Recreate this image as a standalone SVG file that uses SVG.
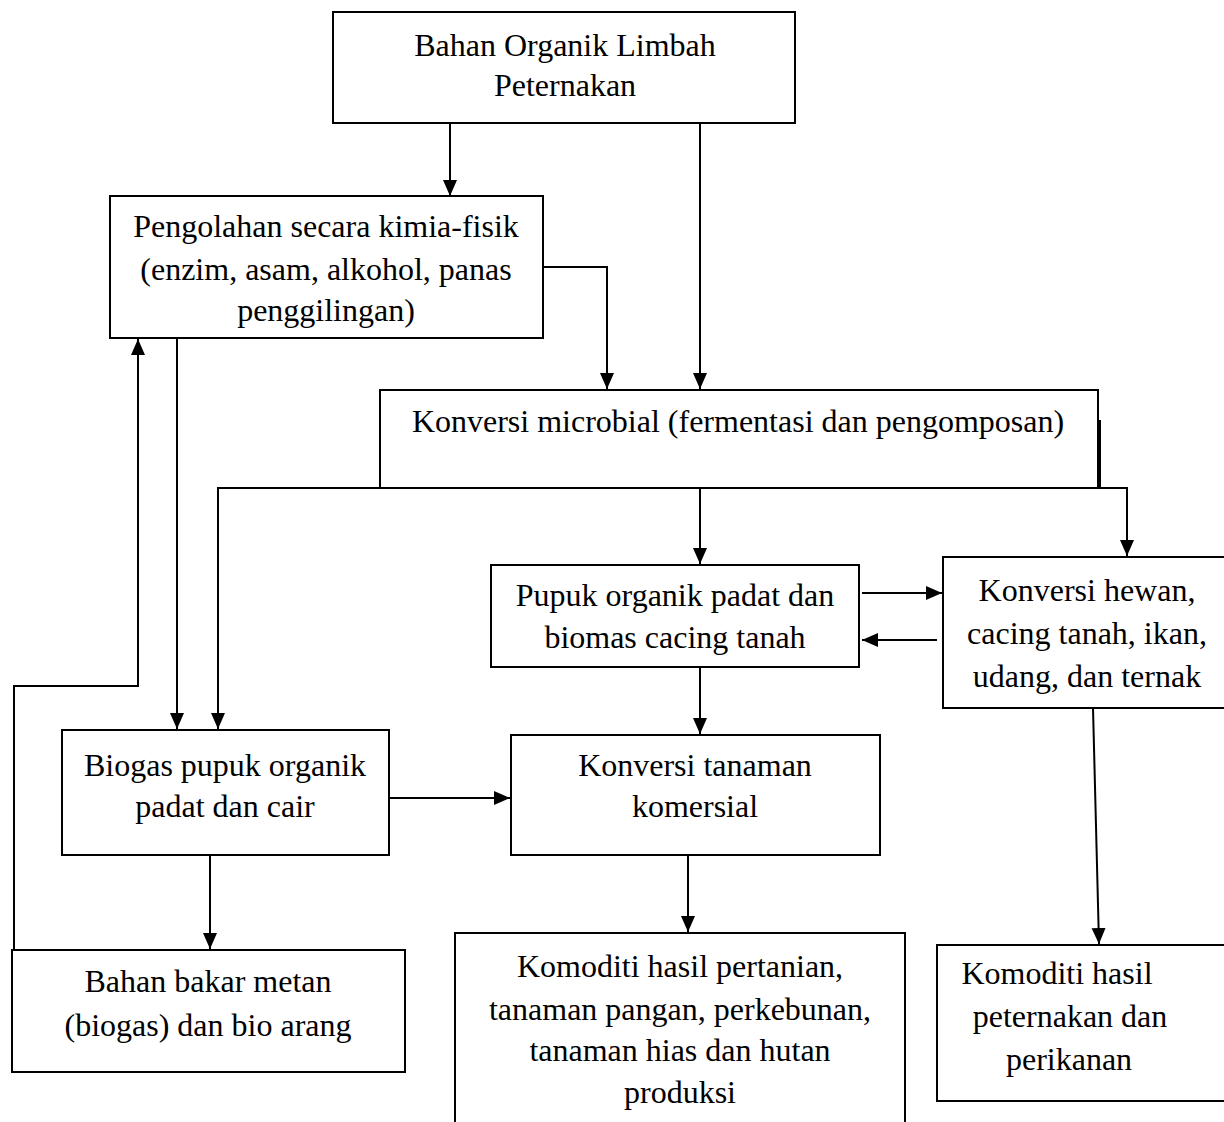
<svg xmlns="http://www.w3.org/2000/svg" width="1224" height="1122" viewBox="0 0 1224 1122">
<defs>
<style>
.box{fill:#fff;stroke:#000;stroke-width:2}
.t{font-family:"Liberation Serif","Times New Roman",serif;font-size:32px;fill:#000;text-anchor:middle}
.c{fill:none;stroke:#000;stroke-width:2}
</style>
<marker id="ah" markerUnits="userSpaceOnUse" markerWidth="16" markerHeight="16" viewBox="0 0 16 16" refX="16" refY="8" orient="auto">
<path d="M0,1 L16,8 L0,15 Z" fill="#000"/>
</marker>
</defs>
<rect width="1224" height="1122" fill="#fff"/>
<g id="n1"><rect class="box" x="333" y="12" width="462" height="111"/>
<text class="t" x="565" y="56">Bahan Organik Limbah</text><text class="t" x="565" y="96">Peternakan</text></g>
<g id="n2"><rect class="box" x="110" y="196" width="433" height="142"/>
<text class="t" x="326" y="237">Pengolahan secara kimia-fisik</text><text class="t" x="326" y="280">(enzim, asam, alkohol, panas</text><text class="t" x="326" y="321">penggilingan)</text></g>
<g id="n3"><rect class="box" x="380" y="390" width="718" height="98"/>
<text class="t" x="738" y="432">Konversi microbial (fermentasi dan pengomposan)</text></g>
<g id="n4"><rect class="box" x="491" y="565" width="368" height="102"/>
<text class="t" x="675" y="606">Pupuk organik padat dan</text><text class="t" x="675" y="648">biomas cacing tanah</text></g>
<g id="n5"><rect class="box" x="943" y="557" width="290" height="151"/>
<text class="t" x="1087" y="601">Konversi hewan,</text><text class="t" x="1087" y="644">cacing tanah, ikan,</text><text class="t" x="1087" y="687">udang, dan ternak</text></g>
<g id="n6"><rect class="box" x="62" y="730" width="327" height="125"/>
<text class="t" x="225" y="776">Biogas pupuk organik</text><text class="t" x="225" y="817">padat dan cair</text></g>
<g id="n7"><rect class="box" x="511" y="735" width="369" height="120"/>
<text class="t" x="695" y="776">Konversi tanaman</text><text class="t" x="695" y="817">komersial</text></g>
<g id="n8"><rect class="box" x="12" y="950" width="393" height="122"/>
<text class="t" x="208" y="992">Bahan bakar metan</text><text class="t" x="208" y="1036">(biogas) dan bio arang</text></g>
<g id="n9"><rect class="box" x="455" y="933" width="450" height="200"/>
<text class="t" x="680" y="977">Komoditi hasil pertanian,</text><text class="t" x="680" y="1020">tanaman pangan, perkebunan,</text><text class="t" x="680" y="1061">tanaman hias dan hutan</text><text class="t" x="680" y="1103">produksi</text></g>
<g id="n10"><rect class="box" x="937" y="945" width="296" height="156"/>
<text class="t" x="1057" y="984">Komoditi hasil</text><text class="t" x="1070" y="1027">peternakan dan</text><text class="t" x="1069" y="1070">perikanan</text></g>
<g id="connectors">
<path class="c" d="M450,123 V196" marker-end="url(#ah)"/>
<path class="c" d="M700,123 V389" marker-end="url(#ah)"/>
<path class="c" d="M543,267 H607 V389" marker-end="url(#ah)"/>
<path class="c" d="M380,445 V488 H218 V729" marker-end="url(#ah)"/>
<path class="c" d="M177,338 V729" marker-end="url(#ah)"/>
<path class="c" d="M700,488 V564" marker-end="url(#ah)"/>
<path class="c" d="M1100,420 V488 H1127 V556" marker-end="url(#ah)"/>
<path class="c" d="M862,593 H942" marker-end="url(#ah)"/>
<path class="c" d="M937,640 H862" marker-end="url(#ah)"/>
<path class="c" d="M700,667 V734" marker-end="url(#ah)"/>
<path class="c" d="M389,798 H510" marker-end="url(#ah)"/>
<path class="c" d="M210,855 V949" marker-end="url(#ah)"/>
<path class="c" d="M688,855 V932" marker-end="url(#ah)"/>
<path class="c" d="M1093,708 L1099,944" marker-end="url(#ah)"/>
<path class="c" d="M14,950 V686 H138 V339" marker-end="url(#ah)"/>
</g>
</svg>
